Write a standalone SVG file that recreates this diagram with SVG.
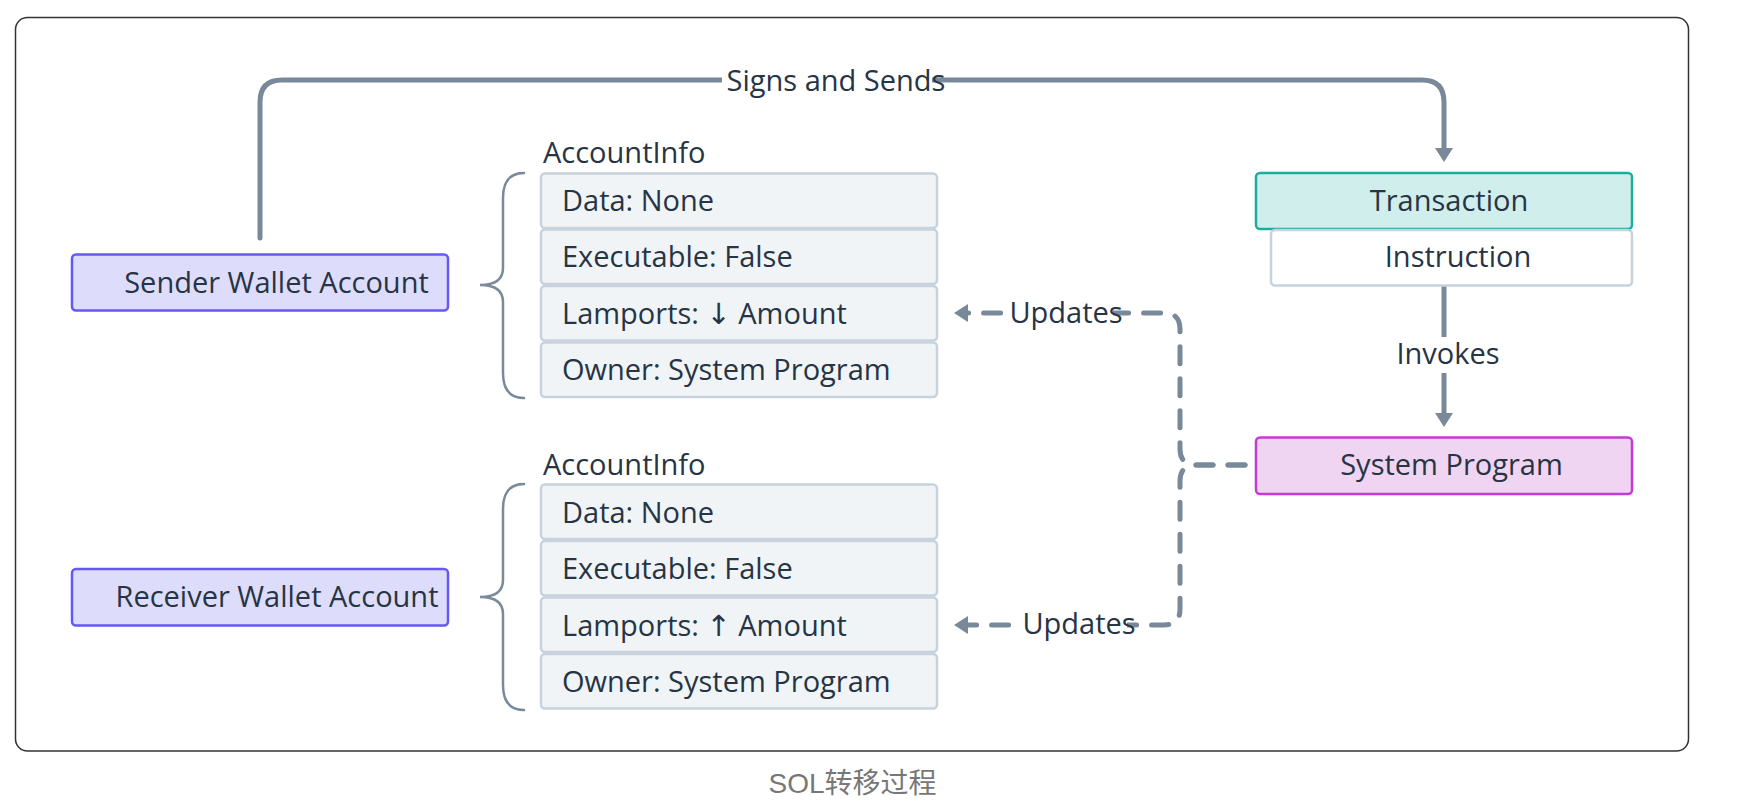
<svg xmlns="http://www.w3.org/2000/svg" width="1739" height="812" viewBox="0 0 1739 812">
  <style>
    .t { font-family: "Open Sans", "Noto Sans", "DejaVu Sans", sans-serif; font-size: 29px; fill: #273444; }
    .c { text-anchor: middle; }
    .row { fill: #f0f4f7; stroke: #c7d2dc; stroke-width: 2.5; }
    .wallet { fill: #dedcfb; stroke: #6658f5; stroke-width: 2.5; }
    .brace { fill: none; stroke: #7a8a99; stroke-width: 2.5; stroke-linecap: round; }
    .edge { fill: none; stroke: #798999; stroke-width: 5; stroke-linecap: round; stroke-linejoin: round; }
    .dash { stroke-dasharray: 17 15; }
    .lblbg { fill: #ffffff; }
  </style>
  <defs>
    <marker id="arr" viewBox="0 0 14 18" refX="6" refY="9" markerWidth="14" markerHeight="18" markerUnits="userSpaceOnUse" orient="auto">
      <path d="M0,0 L14,9 L0,18 z" fill="#798999"/>
    </marker>
  </defs>
  <rect x="0" y="0" width="1739" height="812" fill="#ffffff"/>
  <rect id="frame" x="15.5" y="17.5" width="1673" height="733.5" rx="12" fill="none" stroke="#333333" stroke-width="1.5"/>

  <g id="connectors">
    <path class="edge" d="M260,238 V102 Q260,80 282,80 H1422 Q1444,80 1444,102 V154" marker-end="url(#arr)"/>
    <rect class="lblbg" x="722" y="64" width="210" height="32"/>
    <text class="t c" x="836" y="90.7">Signs and Sends</text>

    <path class="edge" d="M1444,287 V419" marker-end="url(#arr)"/>
    <rect class="lblbg" x="1390" y="337" width="116" height="36"/>
    <text class="t c" x="1448" y="364">Invokes</text>

    <path class="edge dash" d="M1245,465 H1196 Q1180,465 1180,449 V329 Q1180,313 1164,313 H962" marker-end="url(#arr)"/>
    <path class="edge dash" d="M1245,465 H1196 Q1180,465 1180,481 V609 Q1180,625 1164,625 H962" marker-end="url(#arr)"/>
    <rect class="lblbg" x="1007" y="297" width="106" height="32"/>
    <text class="t c" x="1066" y="322.7">Updates</text>
    <rect class="lblbg" x="1020" y="609" width="107" height="32"/>
    <text class="t c" x="1079" y="634">Updates</text>
  </g>

  <g id="sender">
    <rect class="wallet" x="72" y="254.5" width="376" height="56" rx="4"/>
    <text class="t c" x="276.5" y="292.7">Sender Wallet Account</text>
  </g>

  <g id="receiver">
    <rect class="wallet" x="72" y="569" width="376" height="56.5" rx="4"/>
    <text class="t c" x="277" y="607.3">Receiver Wallet Account</text>
  </g>

  <g id="sender-accountinfo">
    <path class="brace" d="M524,173 Q503,173 503,198 V268 Q503,285 480,285 Q503,285 503,302 V373 Q503,398 524,398"/>
    <text class="t" x="543" y="163">AccountInfo</text>
    <rect class="row" x="541" y="173.5" width="396" height="54.5" rx="4"/>
    <rect class="row" x="541" y="229.5" width="396" height="54.5" rx="4"/>
    <rect class="row" x="541" y="286" width="396" height="54.5" rx="4"/>
    <rect class="row" x="541" y="342.5" width="396" height="54.5" rx="4"/>
    <text class="t" x="562" y="211">Data: None</text>
    <text class="t" x="562" y="267.3">Executable: False</text>
    <text class="t" x="562" y="323.6">Lamports: ↓ Amount</text>
    <text class="t" x="562" y="380.2">Owner: System Program</text>
  </g>

  <g id="receiver-accountinfo">
    <path class="brace" d="M524,484 Q503,484 503,509 V580 Q503,597 480,597 Q503,597 503,614 V685 Q503,710 524,710"/>
    <text class="t" x="543" y="475">AccountInfo</text>
    <rect class="row" x="541" y="484.5" width="396" height="54.5" rx="4"/>
    <rect class="row" x="541" y="541" width="396" height="54.5" rx="4"/>
    <rect class="row" x="541" y="597.5" width="396" height="54.5" rx="4"/>
    <rect class="row" x="541" y="654" width="396" height="54.5" rx="4"/>
    <text class="t" x="562" y="522.7">Data: None</text>
    <text class="t" x="562" y="579.2">Executable: False</text>
    <text class="t" x="562" y="635.7">Lamports: ↑ Amount</text>
    <text class="t" x="562" y="692.2">Owner: System Program</text>
  </g>

  <g id="transaction">
    <rect x="1256" y="173" width="376" height="56" rx="4" fill="#d0eeeb" stroke="#1bae9f" stroke-width="2.5"/>
    <text class="t c" x="1449" y="210.7">Transaction</text>
  </g>

  <g id="instruction">
    <rect x="1271" y="230" width="361" height="55.5" rx="4" fill="#ffffff" stroke="#c7d2dc" stroke-width="2.5"/>
    <text class="t c" x="1458" y="267">Instruction</text>
  </g>

  <g id="system-program">
    <rect x="1256" y="437.5" width="376" height="56.5" rx="4" fill="#f0d5f2" stroke="#c43ad6" stroke-width="2.5"/>
    <text class="t c" x="1451.5" y="475">System Program</text>
  </g>

  <text id="caption" x="852.5" y="793" text-anchor="middle" font-family="'Liberation Sans', 'Noto Sans CJK SC', sans-serif" font-size="28" fill="#777777">SOL转移过程</text>
</svg>
